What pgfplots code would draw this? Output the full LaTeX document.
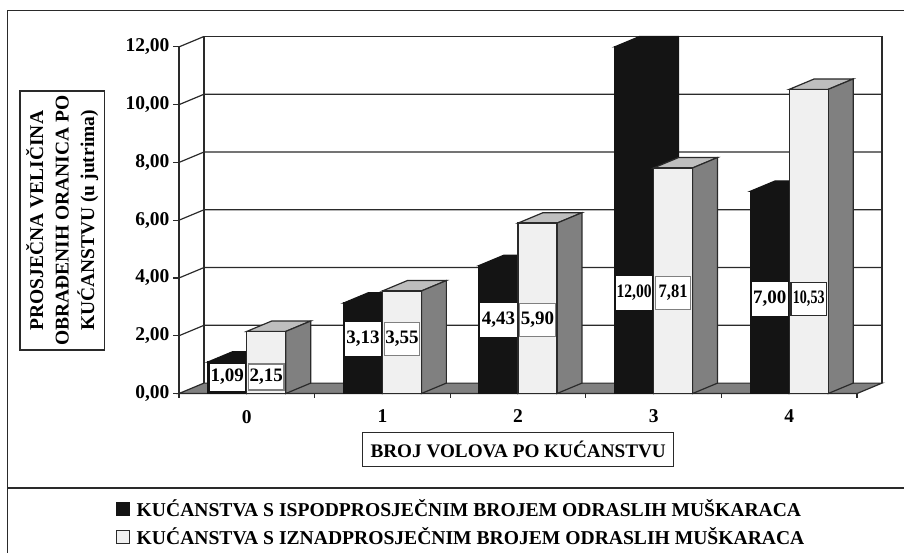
\documentclass[border=0pt]{standalone}
\usepackage{fontspec}
\setmainfont{Liberation Serif}
\usepackage{graphicx}
\usepackage{pgfplots}
\pgfplotsset{compat=1.18}
\definecolor{ink}{HTML}{2A2A2A}
\definecolor{barblack}{HTML}{141414}
\definecolor{barlight}{HTML}{F0F0F0}
\definecolor{bartop}{HTML}{BEBEBE}
\definecolor{barside}{HTML}{808080}
\newcommand{\fs}[1]{\fontsize{#1}{#1}\selectfont\bfseries}
\tikzset{
  blk/.style={fill=white,draw=white,line width=1pt,inner sep=0pt,minimum width=35.5pt,minimum height=33pt,font=\fs{19}},
  wht/.style={fill=white,draw=barside,line width=1.2pt,inner sep=0pt,minimum width=35.5pt,minimum height=33pt,font=\fs{19}},
}
\begin{document}
\begin{tikzpicture}
\useasboundingbox (0pt,0pt) rectangle (904pt,-553pt);
% frame
\draw[ink,line width=1.8pt] (904pt,-10.5pt) -- (7.5pt,-10.5pt) -- (7.5pt,-553pt);
\draw[ink,line width=1.8pt] (7.5pt,-488pt) -- (904pt,-488pt);
% titles
\node[draw=ink,line width=1.5pt,fill=white,inner sep=0pt,minimum width=311pt,minimum height=34pt,font=\fs{19.2}] at (518.2pt,-449.7pt) {BROJ VOLOVA PO KUĆANSTVU};
\node[draw=ink,line width=1.5pt,fill=white,inner sep=0pt,minimum width=259pt,minimum height=84.5pt,rotate=90,align=center,font=\fontsize{19.5}{25.5}\selectfont\bfseries] at (62.2pt,-220.5pt) {PROSJEČNA VELIČINA\\OBRAĐENIH ORANICA PO\\KUĆANSTVU (u jutrima)};
\begin{axis}[
  at={(179pt,-393.5pt)},anchor=south west,
  width=703pt,height=357pt,scale only axis,
  xmin=-0.5,xmax=4.684,ymin=0,ymax=12.36,
  clip=false,
  axis line style={draw=none},
  xtick={0,1,2,3,4},
  xticklabels={0,1,2,3,4},
  ytick={0,2,4,6,8,10,12},
  x tick style={draw=none},
  y tick style={draw=ink,line width=1.2pt},
  tick align=outside,
  ytick pos=left, xtick pos=bottom,
  major tick length=6pt,
  tick label style={font=\fs{19.5}},
  xticklabel style={yshift=-7pt},
  yticklabel style={/pgf/number format/.cd,fixed,fixed zerofill,precision=2,use comma,assume math mode=true},
  legend style={draw=none,fill=none,at={(axis description cs:-0.0896,-0.292)},anchor=north west,
    font=\fs{19.6},cells={anchor=west},row sep=5pt,inner sep=0pt},
  legend image code/.code={\draw[#1,line width=1pt] (0pt,-6.5pt) rectangle (13pt,6.5pt);\path[draw=none,fill=none] (0pt,0pt) -- (18pt,0pt);},
]
\addlegendimage{fill=barblack,draw=barblack}
\addlegendentry{KUĆANSTVA S ISPODPROSJEČNIM BROJEM ODRASLIH MUŠKARACA}
\addlegendimage{fill=barlight,draw=ink}
\addlegendentry{KUĆANSTVA S IZNADPROSJEČNIM BROJEM ODRASLIH MUŠKARACA}
% floor
\addplot[fill=barside,draw=ink,line width=1.2pt,forget plot] coordinates {(-0.5,0)(-0.316,0.36)(4.684,0.36)(4.5,0)} --cycle;
% walls and grid
\addplot[draw=ink,line width=1.2pt,forget plot] coordinates {(-0.316,0.36)(-0.316,12.36)(4.684,12.36)(4.684,0.36)};
\addplot[draw=ink,line width=1.2pt,forget plot] coordinates {(-0.5,2)(-0.316,2.36)(4.684,2.36)};
\addplot[draw=ink,line width=1.2pt,forget plot] coordinates {(-0.5,4)(-0.316,4.36)(4.684,4.36)};
\addplot[draw=ink,line width=1.2pt,forget plot] coordinates {(-0.5,6)(-0.316,6.36)(4.684,6.36)};
\addplot[draw=ink,line width=1.2pt,forget plot] coordinates {(-0.5,8)(-0.316,8.36)(4.684,8.36)};
\addplot[draw=ink,line width=1.2pt,forget plot] coordinates {(-0.5,10)(-0.316,10.36)(4.684,10.36)};
\addplot[draw=ink,line width=1.2pt,forget plot] coordinates {(-0.5,12)(-0.316,12.36)};
\addplot[draw=ink,line width=1.2pt,forget plot] coordinates {(-0.5,12)(-0.5,-0.16)};
\addplot[draw=ink,line width=1.2pt,forget plot] coordinates {(-0.5,0)(4.5,0)(4.5,-0.16)};
\addplot[draw=ink,line width=1.2pt,forget plot] coordinates {(0.5,0)(0.5,-0.16)};
\addplot[draw=ink,line width=1.2pt,forget plot] coordinates {(1.5,0)(1.5,-0.16)};
\addplot[draw=ink,line width=1.2pt,forget plot] coordinates {(2.5,0)(2.5,-0.16)};
\addplot[draw=ink,line width=1.2pt,forget plot] coordinates {(3.5,0)(3.5,-0.16)};
% dark series: top and hidden side
\addplot[fill=barblack,draw=barblack,line width=1.2pt,forget plot] coordinates {(-0.2875,1.09)(-0.1035,1.45)(0.184,1.45)(0.184,0.36)(0,0)(0,1.09)} --cycle;
\addplot[fill=barblack,draw=barblack,line width=1.2pt,forget plot] coordinates {(0.7125,3.13)(0.8965,3.49)(1.184,3.49)(1.184,0.36)(1,0)(1,3.13)} --cycle;
\addplot[fill=barblack,draw=barblack,line width=1.2pt,forget plot] coordinates {(1.7125,4.43)(1.8965,4.79)(2.184,4.79)(2.184,0.36)(2,0)(2,4.43)} --cycle;
\addplot[fill=barblack,draw=barblack,line width=1.2pt,forget plot] coordinates {(2.7125,12)(2.8965,12.36)(3.184,12.36)(3.184,0.36)(3,0)(3,12)} --cycle;
\addplot[fill=barblack,draw=barblack,line width=1.2pt,forget plot] coordinates {(3.7125,7)(3.8965,7.36)(4.184,7.36)(4.184,0.36)(4,0)(4,7)} --cycle;
\addplot[ybar,bar width=0.2875,bar shift=-0.14375,fill=barblack,draw=barblack,line width=1.2pt,forget plot] coordinates {(0,1.09)(1,3.13)(2,4.43)(3,12)(4,7)};
% light series: tops and sides
\addplot[fill=bartop,draw=ink,line width=1.2pt,forget plot] coordinates {(0,2.15)(0.184,2.51)(0.4715,2.51)(0.2875,2.15)} --cycle;
\addplot[fill=barside,draw=ink,line width=1.2pt,forget plot] coordinates {(0.2875,2.15)(0.4715,2.51)(0.4715,0.36)(0.2875,0)} --cycle;
\addplot[fill=bartop,draw=ink,line width=1.2pt,forget plot] coordinates {(1,3.55)(1.184,3.91)(1.4715,3.91)(1.2875,3.55)} --cycle;
\addplot[fill=barside,draw=ink,line width=1.2pt,forget plot] coordinates {(1.2875,3.55)(1.4715,3.91)(1.4715,0.36)(1.2875,0)} --cycle;
\addplot[fill=bartop,draw=ink,line width=1.2pt,forget plot] coordinates {(2,5.90)(2.184,6.26)(2.4715,6.26)(2.2875,5.90)} --cycle;
\addplot[fill=barside,draw=ink,line width=1.2pt,forget plot] coordinates {(2.2875,5.90)(2.4715,6.26)(2.4715,0.36)(2.2875,0)} --cycle;
\addplot[fill=bartop,draw=ink,line width=1.2pt,forget plot] coordinates {(3,7.81)(3.184,8.17)(3.4715,8.17)(3.2875,7.81)} --cycle;
\addplot[fill=barside,draw=ink,line width=1.2pt,forget plot] coordinates {(3.2875,7.81)(3.4715,8.17)(3.4715,0.36)(3.2875,0)} --cycle;
\addplot[fill=bartop,draw=ink,line width=1.2pt,forget plot] coordinates {(4,10.53)(4.184,10.89)(4.4715,10.89)(4.2875,10.53)} --cycle;
\addplot[fill=barside,draw=ink,line width=1.2pt,forget plot] coordinates {(4.2875,10.53)(4.4715,10.89)(4.4715,0.36)(4.2875,0)} --cycle;
\addplot[ybar,bar width=0.2875,bar shift=0.14375,fill=barlight,draw=ink,line width=1.2pt,forget plot] coordinates {(0,2.15)(1,3.55)(2,5.90)(3,7.81)(4,10.53)};
% value labels
\node[blk,minimum height=28pt,draw=barblack] at (axis cs:-0.14375,0.57) {1,09};
\node[wht,minimum height=26pt] at (axis cs:0.14375,0.57) {2,15};
\node[blk] at (axis cs:0.85625,1.9) {3,13};
\node[wht] at (axis cs:1.14375,1.9) {3,55};
\node[blk] at (axis cs:1.85625,2.55) {4,43};
\node[wht] at (axis cs:2.14375,2.55) {5,90};
\node[blk] at (axis cs:2.85625,3.48) {\scalebox{.82}[1]{12,00}};
\node[wht] at (axis cs:3.14375,3.48) {\scalebox{.87}[1]{7,81}};
\node[blk] at (axis cs:3.85625,3.27) {7,00};
\node[wht,draw=ink] at (axis cs:4.14375,3.27) {\scalebox{.74}[1]{10,53}};
\end{axis}
\end{tikzpicture}
\end{document}
